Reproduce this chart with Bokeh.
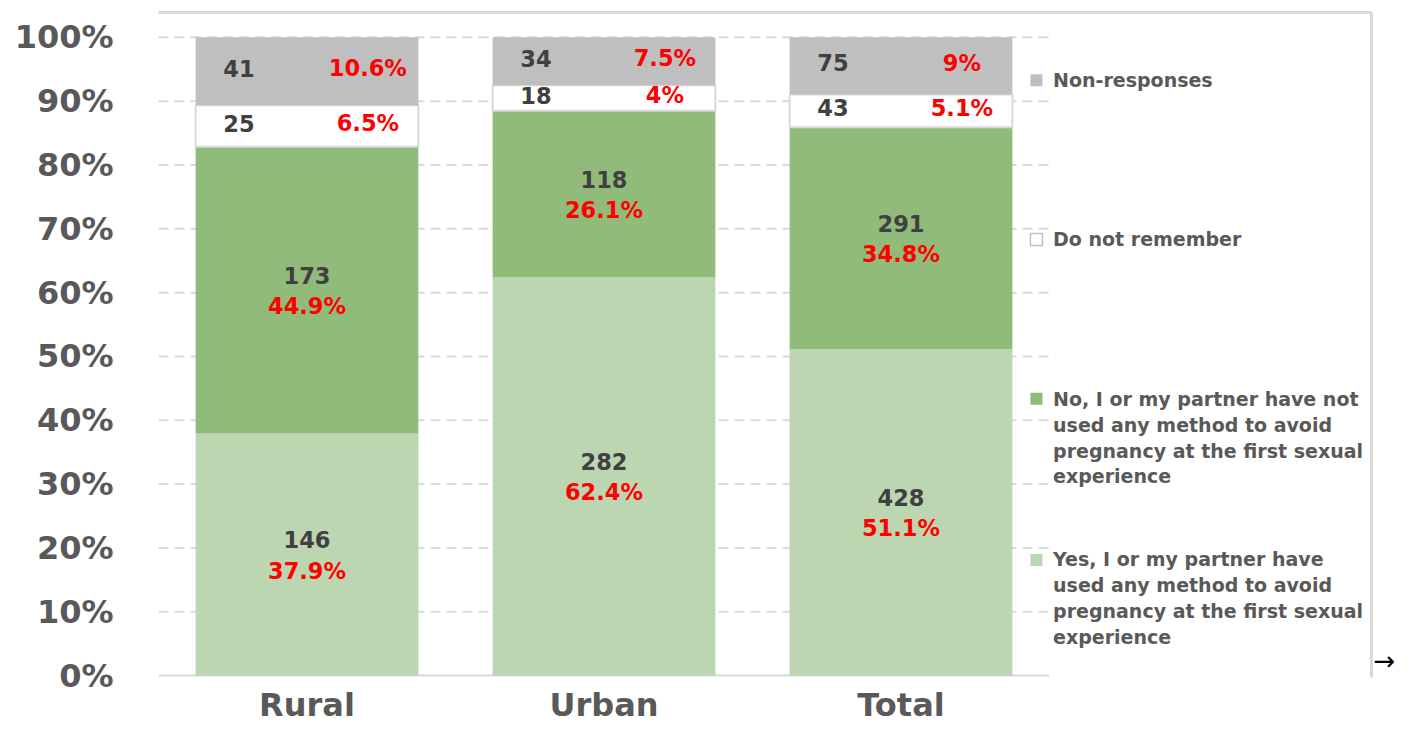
from bokeh.plotting import figure
from bokeh.models import Range1d, FixedTicker
from bokeh.embed import file_html
from bokeh.resources import INLINE
from bokeh.core.properties import value

# ---------------- data ----------------
categories = ["Rural", "Urban", "Total"]
yes_counts = [146, 282, 428]
no_counts = [173, 118, 291]
dnr_counts = [25, 18, 43]
nonresp_counts = [41, 34, 75]
yes_pct_labels = ["37.9%", "62.4%", "51.1%"]
no_pct_labels = ["44.9%", "26.1%", "34.8%"]
dnr_pct_labels = ["6.5%", "4%", "5.1%"]
nonresp_pct_labels = ["10.6%", "7.5%", "9%"]
series_names = [
    "Non-responses",
    "Do not remember",
    "No, I or my partner have not\nused any method to avoid\npregnancy at the first sexual\nexperience",
    "Yes, I or my partner have\nused any method to avoid\npregnancy at the first sexual\nexperience",
]
y_ticks = [0, 10, 20, 30, 40, 50, 60, 70, 80, 90, 100]
y_tick_labels = ["0%", "10%", "20%", "30%", "40%", "50%", "60%", "70%", "80%", "90%", "100%"]

# ---------------- styles ----------------
FONT = "DejaVu Sans"
C_YES = "#BDD6B2"
C_NO = "#91BB7A"
C_NON = "#BFBFBF"
C_DNR = "#FFFFFF"
C_BORDER = "#D9D9D9"
C_AXIS_TXT = "#595959"
C_COUNT = "#404040"
C_PCT = "#FF0000"

xs = [i + 0.5 for i in range(len(categories))]
totals = [a + b + c + d for a, b, c, d in zip(yes_counts, no_counts, dnr_counts, nonresp_counts)]

def pct(counts):
    return [c / t * 100 for c, t in zip(counts, totals)]

yes_p = pct(yes_counts)
no_p = pct(no_counts)
dnr_p = pct(dnr_counts)
non_p = pct(nonresp_counts)

b0 = [0.0] * 3
b1 = [a + b for a, b in zip(b0, yes_p)]
b2 = [a + b for a, b in zip(b1, no_p)]
b3 = [a + b for a, b in zip(b2, dnr_p)]
b4 = [a + b for a, b in zip(b3, non_p)]

p = figure(
    width=1395, height=726,
    x_range=Range1d(0, 4.165), y_range=Range1d(-0.31, 104.21),
    output_backend="svg", toolbar_location=None,
    min_border_left=158, min_border_right=0, min_border_top=10, min_border_bottom=46,
)
p.outline_line_color = None
p.xgrid.visible = False
p.ygrid.visible = False
p.background_fill_color = "white"
p.border_fill_color = "white"

# gridlines (dashed) and baseline
grid_y = [t for t in y_ticks if t > 0]
p.segment(x0=[0] * len(grid_y), x1=[3.0] * len(grid_y), y0=grid_y, y1=grid_y,
          line_color=C_BORDER, line_width=2, line_dash="10 6")
p.segment(x0=[0], x1=[3.0], y0=[0], y1=[0], line_color=C_BORDER, line_width=2)

W = 0.75
p.vbar(x=xs, bottom=b0, top=b1, width=W, fill_color=C_YES, line_color=None)
p.vbar(x=xs, bottom=b1, top=b2, width=W, fill_color=C_NO, line_color=None)
p.vbar(x=xs, bottom=b2, top=b3, width=W, fill_color=C_DNR, line_color=C_BORDER, line_width=2)
p.vbar(x=xs, bottom=b3, top=b4, width=W, fill_color=C_NON, line_color=None)

def mids(lo, hi):
    return [(a + b) / 2 for a, b in zip(lo, hi)]

lbl_kw = dict(text_font=value(FONT), text_font_style="bold", text_font_size="22.5px",
              text_align="center", text_baseline="middle")

# big segments: count above, percentage below
for lo, hi, counts, plabels in [(b0, b1, yes_counts, yes_pct_labels), (b1, b2, no_counts, no_pct_labels)]:
    m = mids(lo, hi)
    p.text(x=xs, y=m, text=[str(c) for c in counts], y_offset=-15, text_color=C_COUNT, **lbl_kw)
    p.text(x=xs, y=m, text=plabels, y_offset=16, text_color=C_PCT, **lbl_kw)

# small segments: count left, percentage right
for lo, hi, counts, plabels in [(b2, b3, dnr_counts, dnr_pct_labels), (b3, b4, nonresp_counts, nonresp_pct_labels)]:
    m = mids(lo, hi)
    p.text(x=[x - 0.229 for x in xs], y=m, text=[str(c) for c in counts], y_offset=-3,
           text_color=C_COUNT, **lbl_kw)
    p.text(x=[x + 0.205 for x in xs], y=m, text=plabels, y_offset=-3, text_color=C_PCT, **lbl_kw)

# legend (manual, spaced like the reference)
leg_colors = [C_NON, C_DNR, C_NO, C_YES]
leg_sq_y = [93.29, 68.33, 43.37, 18.10]
leg_txt_y = [93.29, 68.33, 37.29, 12.17]
p.rect(x=[2.956] * 4, y=leg_sq_y, width=12, height=12, width_units="screen", height_units="screen",
       fill_color=leg_colors, line_color=[None, "#BFBFBF", None, None], line_width=1.5)
p.text(x=[3.012] * 4, y=leg_txt_y, text=series_names, text_font=value(FONT), text_font_style="bold",
       text_font_size="19px", text_color=C_AXIS_TXT, text_align="left", text_baseline="middle",
       text_line_height=1.18)

# outer chart border (top and right edges)
p.segment(x0=[-1, 4.084], x1=[4.084, 4.084], y0=[103.9, 103.9], y1=[103.9, -20],
          line_color=C_BORDER, line_width=3)

# stray arrow glyph at the lower right of the reference
p.text(x=[4.128], y=[2.3], text=["\u2192"], text_font=value(FONT), text_font_size="26px",
       text_color="black", text_align="center", text_baseline="middle")

# axes
p.xaxis.ticker = FixedTicker(ticks=xs)
p.xaxis.major_label_overrides = {x: c for x, c in zip(xs, categories)}
p.yaxis.ticker = FixedTicker(ticks=y_ticks)
p.yaxis.major_label_overrides = {t: l for t, l in zip(y_ticks, y_tick_labels)}
for ax in (p.xaxis, p.yaxis):
    ax.axis_line_color = None
    ax.major_tick_line_color = None
    ax.minor_tick_line_color = None
    ax.major_tick_out = 0
    ax.major_tick_in = 0
    ax.major_label_text_font = FONT
    ax.major_label_text_font_style = "bold"
    ax.major_label_text_color = C_AXIS_TXT
    ax.major_label_text_font_size = "32px"
p.xaxis.major_label_standoff = 8
p.yaxis.major_label_standoff = 45

open("out.html", "w").write(file_html(p, INLINE))
